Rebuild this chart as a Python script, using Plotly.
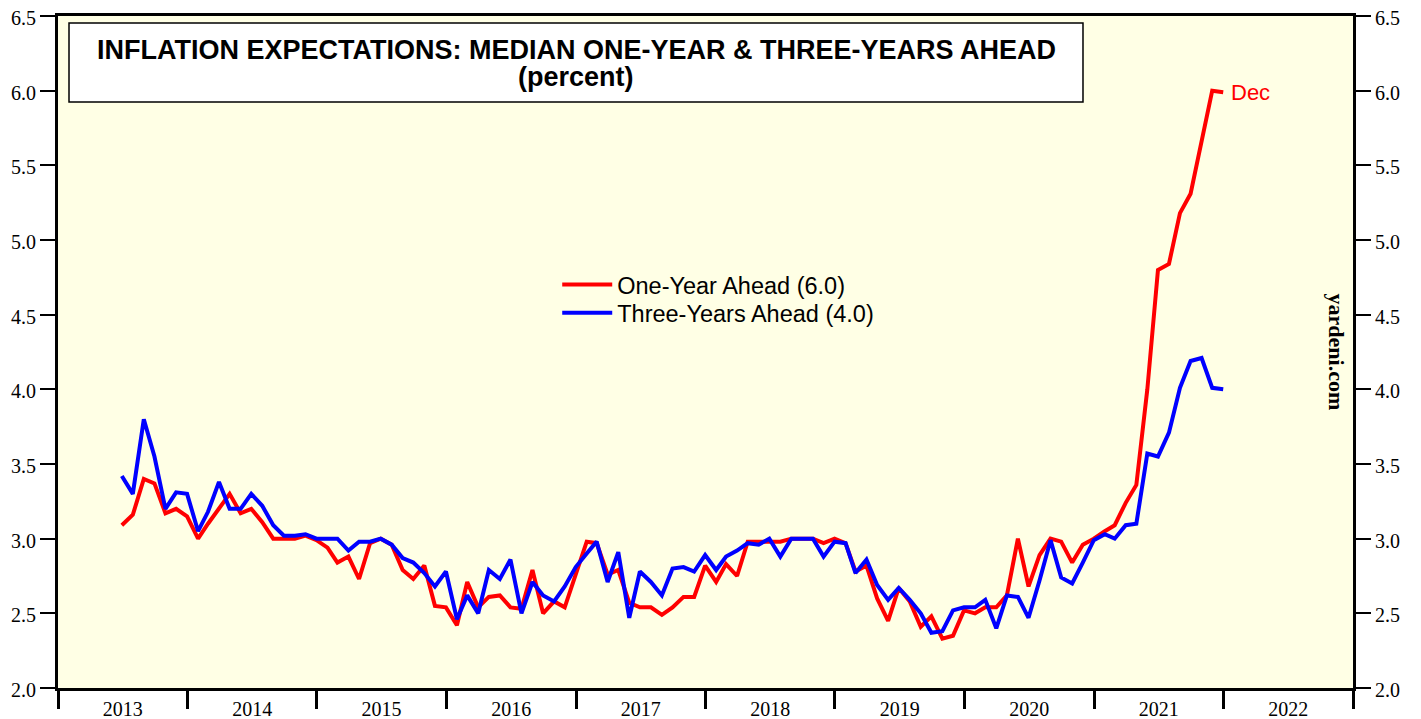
import pandas as pd
import plotly.graph_objects as go

# ── Dados: mediana das expectativas de inflação (%), jun/2013 a dez/2021 ─────
meses = pd.date_range("2013-06-01", periods=103, freq="MS") + pd.offsets.MonthEnd(0)

um_ano = [
    3.09, 3.16, 3.40, 3.37, 3.17, 3.20, 3.15,                                # 2013
    3.00, 3.10, 3.20, 3.30, 3.17, 3.20, 3.11, 3.00, 3.00, 3.00, 3.02, 2.99,  # 2014
    2.94, 2.84, 2.88, 2.73, 2.97, 3.00, 2.96, 2.79, 2.73, 2.82, 2.55, 2.54,  # 2015
    2.42, 2.71, 2.54, 2.61, 2.62, 2.54, 2.53, 2.79, 2.50, 2.58, 2.54, 2.77,  # 2016
    2.98, 2.97, 2.76, 2.79, 2.57, 2.54, 2.54, 2.49, 2.54, 2.61, 2.61, 2.82,  # 2017
    2.71, 2.83, 2.75, 2.98, 2.98, 2.98, 2.98, 3.00, 3.00, 3.00, 2.97, 3.00,  # 2018
    2.97, 2.78, 2.82, 2.60, 2.45, 2.67, 2.58, 2.41, 2.48, 2.33, 2.35, 2.52,  # 2019
    2.50, 2.54, 2.54, 2.62, 3.00, 2.68, 2.89, 3.00, 2.98, 2.84, 2.96, 3.00,  # 2020
    3.05, 3.09, 3.24, 3.36, 4.00, 4.80, 4.84, 5.18, 5.31, 5.66, 6.00, 5.99,  # 2021
]

tres_anos = [
    3.42, 3.30, 3.80, 3.55, 3.20, 3.31, 3.30,                                # 2013
    3.05, 3.18, 3.38, 3.20, 3.20, 3.30, 3.22, 3.09, 3.02, 3.02, 3.03, 3.00,  # 2014
    3.00, 3.00, 2.92, 2.98, 2.98, 3.00, 2.96, 2.87, 2.84, 2.77, 2.68, 2.78,  # 2015
    2.46, 2.62, 2.50, 2.79, 2.73, 2.86, 2.50, 2.71, 2.62, 2.58, 2.68, 2.81,  # 2016
    2.90, 2.98, 2.71, 2.91, 2.47, 2.78, 2.71, 2.62, 2.80, 2.81, 2.78, 2.89,  # 2017
    2.79, 2.88, 2.92, 2.97, 2.96, 3.00, 2.88, 3.00, 3.00, 3.00, 2.88, 2.98,  # 2018
    2.97, 2.77, 2.86, 2.69, 2.59, 2.67, 2.59, 2.50, 2.37, 2.38, 2.52, 2.54,  # 2019
    2.54, 2.59, 2.40, 2.62, 2.61, 2.47, 2.72, 2.99, 2.74, 2.70, 2.84, 2.99,  # 2020
    3.03, 3.00, 3.09, 3.10, 3.57, 3.55, 3.71, 4.01, 4.19, 4.21, 4.01, 4.00,  # 2021
]

nomes = ["One-Year Ahead (6.0)", "Three-Years Ahead (4.0)"]
cores = ["#ff0000", "#0000ff"]
legendas = ["legend", "legend2"]

SERIF = "Liberation Serif, Times New Roman, serif"
SANS = "Liberation Sans, Arial, sans-serif"

fig = go.Figure()
for serie, nome, cor, leg in zip([um_ano, tres_anos], nomes, cores, legendas):
    fig.add_trace(go.Scatter(
        x=meses, y=serie, name=nome, mode="lines",
        line=dict(color=cor, width=4), legend=leg,
    ))
# traço invisível só para o eixo direito aparecer
fig.add_trace(go.Scatter(x=meses[:1], y=tres_anos[:1], yaxis="y2",
                         mode="lines", showlegend=False, hoverinfo="skip",
                         line=dict(width=0)))

# "Dec" colado ao último ponto da série de um ano
fig.add_annotation(
    x=meses[-1], y=um_ano[-1], text="Dec", showarrow=False,
    xanchor="left", xshift=6, font=dict(family=SANS, size=22, color="#ff0000"),
)

# caixa do título
fig.add_shape(
    type="rect", xref="paper", yref="paper",
    x0=0.0085, x1=0.7915, y0=0.872, y1=0.9896,
    fillcolor="white", line=dict(color="black", width=1.5), layer="above",
)
fig.add_annotation(
    xref="paper", yref="paper", x=0.40, y=0.950,
    xanchor="center", yanchor="middle",
    text="<b>INFLATION EXPECTATIONS: MEDIAN ONE-YEAR & THREE-YEARS AHEAD</b>",
    showarrow=False, font=dict(family=SANS, size=27, color="black"),
)
fig.add_annotation(
    xref="paper", yref="paper", x=0.40, y=0.909,
    xanchor="center", yanchor="middle",
    text="<b>(percent)</b>", showarrow=False,
    font=dict(family=SANS, size=27, color="black"),
)
fig.add_annotation(
    xref="paper", yref="paper", x=0.988, y=0.5,
    xanchor="center", yanchor="middle",
    text="<b>yardeni.com</b>", textangle=90, showarrow=False,
    font=dict(family=SERIF, size=22, color="black"),
)

eixo_y = dict(
    range=[2, 6.5], dtick=0.5, tickformat=".1f",
    ticks="outside", ticklen=15, tickwidth=2, tickcolor="black",
    showgrid=False, zeroline=False, automargin=False,
    showline=True, linecolor="black", linewidth=3,
    ticklabeloverflow="allow", ticklabelshift=2,
    tickfont=dict(family=SERIF, size=20, color="black"),
)

estilo_legenda = dict(
    x=0.3855, xanchor="left", yanchor="middle",
    bgcolor="rgba(0,0,0,0)", font=dict(family=SANS, size=23.5, color="black"),
    itemwidth=50,
)

# a página tem margem de 8 px; a figura é descontada disso
fig.update_layout(
    width=1413, height=711,
    margin=dict(l=50, r=68, t=8, b=31, autoexpand=False),
    paper_bgcolor="white",
    plot_bgcolor="#ffffe5",
    showlegend=True,
    legend=dict(**estilo_legenda, y=0.600),
    legend2=dict(**estilo_legenda, y=0.558),
    xaxis=dict(
        type="date", range=["2013-01-01", "2023-01-01"],
        tick0="2013-01-01", dtick="M12", tickformat="%Y",
        ticklabelmode="period",
        ticks="outside", ticklen=18, tickwidth=3, tickcolor="black",
        showgrid=False, zeroline=False, automargin=False,
        showline=True, linecolor="black", linewidth=3, mirror=True,
        ticklabeloverflow="allow",
        tickfont=dict(family=SERIF, size=20, color="black"),
        ticklabelstandoff=-17,
    ),
    yaxis=dict(**eixo_y, side="left", mirror=True),
    yaxis2=dict(**eixo_y, side="right", overlaying="y"),
)

fig.write_html("out.html")
